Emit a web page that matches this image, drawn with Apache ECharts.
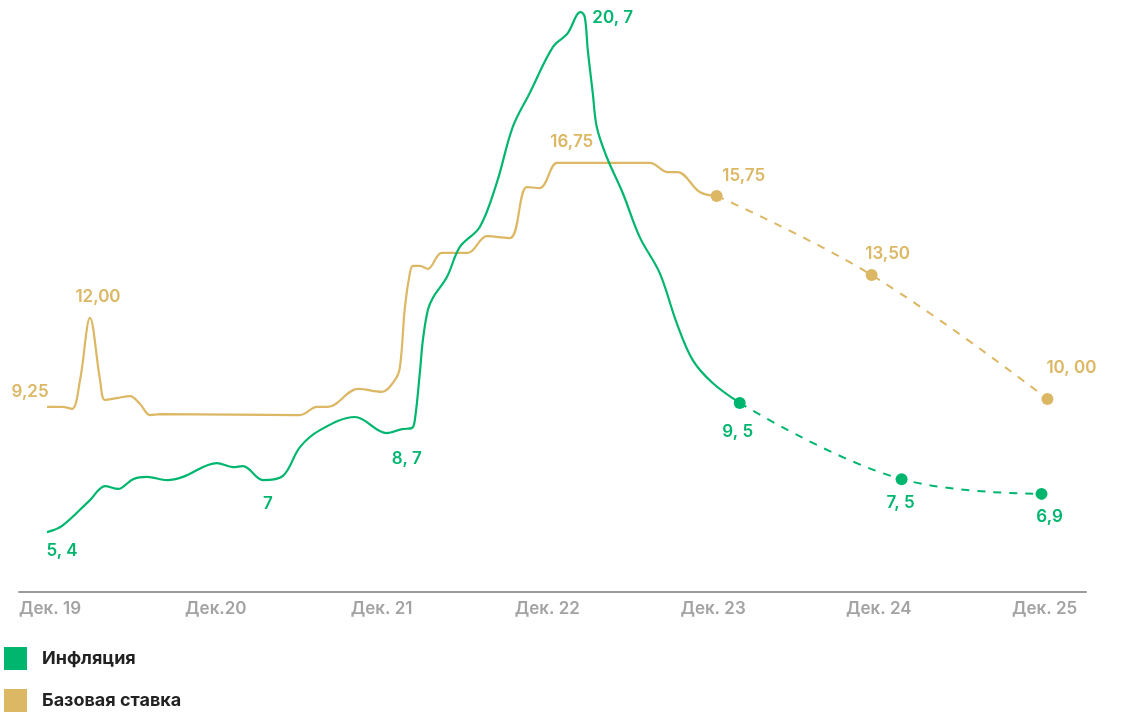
<!DOCTYPE html>
<html>
<head>
<meta charset="utf-8">
<script src="https://cdn.jsdelivr.net/npm/echarts@6/dist/echarts.min.js"></script>
<style>
	html, body { margin: 0; padding: 0; background: #fff; }
	#chart { width: 1121px; height: 713px; }
</style>
</head>
<body>
<div id="chart"></div>
<script>
// x = months since Dec 2019
const tickMonths = [0, 12, 24, 36, 48, 60, 72];
const tickLabels = ['Дек. 19', 'Дек.20', 'Дек. 21', 'Дек. 22', 'Дек. 23', 'Дек. 24', 'Дек. 25'];
const names = ['Инфляция', 'Базовая ставка'];

const inflMonths = [-0.22, 0.87, 2.89, 3.98, 4.92, 6.01, 7.02, 8.47, 9.62, 12.08, 13.24, 13.97, 15.41, 16.86, 18.09, 19.54, 22.07, 24.38, 25.47, 26.19, 26.41, 26.77, 26.99, 27.35, 27.71, 28.73, 29.67, 31.11, 32.34, 33.5, 34.73, 36.4, 37.48, 38.13, 38.42, 38.71, 38.93, 39.29, 39.58, 40.3, 41.46, 42.69, 44.14, 45.37, 46.53, 47.97, 49.93];
const inflValues = [5.43, 5.62, 6.41, 6.84, 6.75, 7.05, 7.12, 7.02, 7.12, 7.54, 7.42, 7.45, 7.02, 7.15, 8.03, 8.55, 8.95, 8.46, 8.58, 8.61, 8.86, 10.3, 11.3, 12.22, 12.59, 13.23, 14.15, 14.76, 16.11, 17.82, 18.86, 20.26, 20.69, 21.24, 21.33, 21.18, 20.17, 18.86, 17.82, 16.9, 15.8, 14.45, 13.35, 11.82, 10.69, 9.99, 9.38];
const inflLabelIdx = [0, 12, 18, 34];
const inflLabelText = ['5, 4', '7', '8, 7', '20, 7'];

const inflFcMonths = [49.93, 61.65, 71.78];
const inflFcValues = [9.38, 7.05, 6.6];
const inflFcText = ['9, 5', '7, 5', '6,9'];

const rateMonths = [-0.22, 0.87, 1.59, 2.17, 2.89, 3.62, 3.98, 4.85, 5.79, 6.51, 7.24, 7.96, 18.09, 19.32, 20.12, 22.29, 24.02, 24.96, 25.33, 25.69, 26.05, 26.27, 26.77, 27.35, 28.36, 30.25, 31.62, 33.29, 34.52, 35.46, 36.69, 37.41, 43.42, 44.72, 45.44, 47.03, 48.26];
const rateValues = [9.26, 9.26, 9.2, 10.08, 11.98, 10.08, 9.47, 9.53, 9.59, 9.35, 9.01, 9.04, 9.01, 9.26, 9.26, 9.81, 9.72, 10.08, 10.48, 12.31, 13.35, 13.57, 13.57, 13.48, 13.97, 13.97, 14.48, 14.42, 15.98, 15.95, 16.72, 16.72, 16.72, 16.44, 16.44, 15.83, 15.71];
const rateLabelIdx = [0, 4, 31];
const rateLabelText = ['9,25', '12,00', '16,75'];

const rateFcMonths = [48.26, 59.48, 72.21];
const rateFcValues = [15.71, 13.29, 9.5];
const rateFcText = ['15,75', '13,50', '10, 00'];

const GREEN = '#00b66f';
const GOLD = '#dcb764';

// label offsets from their point, in px
const inflLabelOffset = [[15, 19], [5, 24], [5, 30], [32, 6]];
const inflFcOffset = [[-2, 29], [-1, 24], [8, 23]];
const rateLabelOffset = [[-17, -15], [8, -21], [5, -21]];
const rateFcOffset = [[27, -20], [16, -21], [24, -31]];

const labelFont = (color, weight) => ({
	show: true,
	position: 'inside',
	color: color,
	fontFamily: 'Inter',
	fontSize: 17,
	fontWeight: weight,
});

function buildData(months, values, labelIdx, texts, offsets, color, weight, dots) {
	return months.map((m, i) => {
		const item = { value: [m, values[i]], symbolSize: dots ? 12 : 0 };
		const k = labelIdx.indexOf(i);
		if (k >= 0) {
			item.label = Object.assign(labelFont(color, weight), {
				offset: offsets[k],
				formatter: texts[k],
			});
		}
		return item;
	});
}

const chart = echarts.init(document.getElementById('chart'));
chart.setOption({
	animation: false,
	grid: { left: 19, right: 35, top: 0, bottom: 121 },
	legend: {
		data: names,
		orient: 'vertical',
		left: 4,
		top: 647,
		padding: 0,
		itemWidth: 23,
		itemHeight: 23,
		itemGap: 19,
		icon: 'rect',
		itemStyle: { borderWidth: 0 },
		textStyle: {
			color: '#222',
			fontFamily: 'Inter',
			fontSize: 18,
			fontWeight: 700,
			padding: [0, 0, 0, 10],
		},
	},
	xAxis: {
		type: 'value',
		min: -2.25,
		max: 75,
		splitLine: { show: false },
		axisTick: { show: false },
		axisLine: { lineStyle: { color: '#9b9b9b', width: 2 } },
		axisLabel: {
			customValues: tickMonths,
			margin: 8,
			color: '#a3a3a3',
			fontFamily: 'Inter',
			fontSize: 17,
			fontWeight: 600,
			formatter: (v) => tickLabels[tickMonths.indexOf(v)] || '',
		},
	},
	yAxis: {
		type: 'value',
		min: 3.6,
		max: 21.7,
		show: false,
	},
	series: [{
		name: names[1],
		type: 'line',
		color: GOLD,
		smooth: 0.35,
		symbol: 'circle',
		showSymbol: true,
		z: 2,
		lineStyle: { width: 2.2, color: GOLD },
		data: buildData(rateMonths, rateValues, rateLabelIdx, rateLabelText, rateLabelOffset, GOLD, 600, false),
	}, {
		name: names[1],
		type: 'line',
		color: GOLD,
		smooth: 0.4,
		symbol: 'circle',
		showSymbol: true,
		z: 2,
		lineStyle: { width: 2, color: GOLD, type: [8, 8] },
		data: buildData(rateFcMonths, rateFcValues, [0, 1, 2], rateFcText, rateFcOffset, GOLD, 600, true),
	}, {
		name: names[0],
		type: 'line',
		color: GREEN,
		smooth: 0.35,
		symbol: 'circle',
		showSymbol: true,
		z: 3,
		lineStyle: { width: 2.2, color: GREEN },
		data: buildData(inflMonths, inflValues, inflLabelIdx, inflLabelText, inflLabelOffset, GREEN, 600, false),
	}, {
		name: names[0],
		type: 'line',
		color: GREEN,
		smooth: 0.4,
		symbol: 'circle',
		showSymbol: true,
		z: 3,
		lineStyle: { width: 2, color: GREEN, type: [8, 8] },
		data: buildData(inflFcMonths, inflFcValues, [0, 1, 2], inflFcText, inflFcOffset, GREEN, 600, true),
	}],
});
</script>
</body>
</html>
